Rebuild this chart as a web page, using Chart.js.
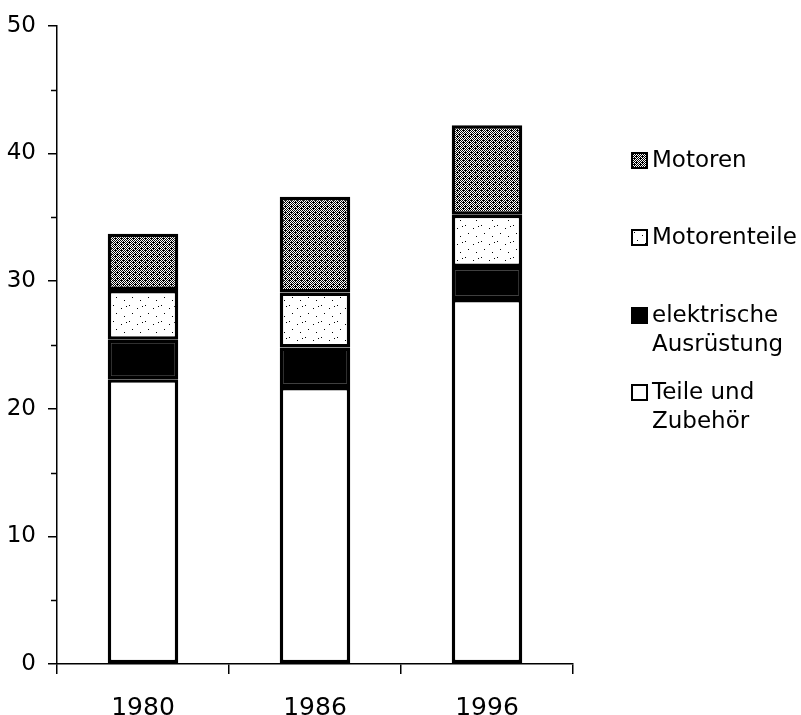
<!DOCTYPE html>
<html>
<head>
<meta charset="utf-8">
<script src="https://cdn.jsdelivr.net/npm/chart.js@4"></script>
<style>
  body { margin: 0; background: #fff; }
  #wrap { position: relative; width: 801px; height: 715px; }
  #legend { position: absolute; left: 0; top: 0; font-family: "DejaVu Sans", sans-serif; font-size: 23px; color: #000; }
  .item { position: absolute; left: 631px; line-height: 29px; }
  .box { position: absolute; left: 0; width: 13px; height: 13px; border: 2px solid #000; }
  .txt { position: absolute; left: 21px; white-space: nowrap; }
</style>
</head>
<body>
<div id="wrap">
  <canvas id="chart" width="801" height="715"></canvas>
  <div id="legend"></div>
</div>
<script>
// Chart data
const years = ["1980", "1986", "1996"];
const teileUndZubehoer = [22.3, 21.7, 28.6];
const elektrischeAusruestung = [3.1, 3.1, 2.5];
const motorenteile = [3.9, 4.3, 4.1];
const motoren = [4.4, 7.5, 7.0];
const seriesNames = ["Teile und\nZubehör", "elektrische\nAusrüstung", "Motorenteile", "Motoren"];

// Make a small stipple pattern, like the scanned raster fill
function makePattern(dots, size) {
  const c = document.createElement("canvas");
  c.width = size;
  c.height = size;
  const g = c.getContext("2d");
  g.fillStyle = "#fff";
  g.fillRect(0, 0, size, size);
  g.fillStyle = "#000";
  dots.forEach(d => g.fillRect(d[0], d[1], 1, 1));
  return g.createPattern(c, "repeat");
}

// dense grey stipple for Motoren
const darkDots = [];
for (let y = 0; y < 6; y++) {
  for (let x = 0; x < 6; x++) {
    if ((x + y) % 2 === 0 || (x === 3 && y === 2) || (x === 1 && y === 4)) darkDots.push([x, y]);
  }
}
const darkFill = makePattern(darkDots, 6);
// sparse dots for Motorenteile
const lightFill = makePattern([[1, 1], [9, 4], [4, 9], [12, 12], [14, 2]], 16);

const fills = ["#fff", "#000", lightFill, darkFill];
const seriesData = [teileUndZubehoer, elektrischeAusruestung, motorenteile, motoren];

// Minor ticks on the y axis every 5 units
const minorTicks = {
  id: "minorTicks",
  afterDraw(chart) {
    const y = chart.scales.y;
    const ctx = chart.ctx;
    ctx.save();
    ctx.strokeStyle = "#000";
    ctx.lineWidth = 1.5;
    for (let v = 5; v < 50; v += 10) {
      const py = Math.round(y.getPixelForValue(v)) + 0.5;
      ctx.beginPath();
      ctx.moveTo(y.right - 6, py);
      ctx.lineTo(y.right, py);
      ctx.stroke();
    }
    ctx.restore();
  }
};

new Chart(document.getElementById("chart"), {
  type: "bar",
  data: {
    labels: years,
    datasets: seriesData.map((d, i) => ({
      label: seriesNames[i],
      data: d,
      backgroundColor: fills[i],
      borderColor: "#000",
      borderWidth: 3.5,
      borderSkipped: false
    }))
  },
  options: {
    responsive: false,
    animation: false,
    layout: { padding: { left: 0, right: 228, top: 20, bottom: 0 } },
    plugins: { legend: { display: false }, tooltip: { enabled: false } },
    datasets: { bar: { categoryPercentage: 1, barPercentage: 0.41 } },
    scales: {
      x: {
        stacked: true,
        offset: true,
        grid: { offset: true, drawOnChartArea: false, color: "#000", tickLength: 10, lineWidth: 1.5 },
        border: { color: "#000", width: 1.5 },
        ticks: { color: "#000", padding: 19, font: { family: "DejaVu Sans", size: 25 } },
        afterFit: s => { s.height = 51; }
      },
      y: {
        stacked: true,
        min: 0,
        max: 50,
        grid: { drawOnChartArea: false, color: "#000", tickLength: 9, lineWidth: 1.5 },
        border: { color: "#000", width: 1.5 },
        ticks: { stepSize: 10, color: "#000", padding: 12, font: { family: "DejaVu Sans", size: 23 } },
        afterFit: s => { s.width = 57; }
      }
    }
  },
  plugins: [minorTicks]
});

// Legend drawn as html, top entry first
const legendEl = document.getElementById("legend");
const legendTops = [377, 300, 222, 145];
[3, 2, 1, 0].forEach(i => {
  const item = document.createElement("div");
  item.className = "item";
  item.style.top = legendTops[i] + "px";
  const box = document.createElement("canvas");
  box.className = "box";
  box.width = 13;
  box.height = 13;
  box.style.top = "7px";
  const bctx = box.getContext("2d");
  bctx.fillStyle = fills[i];
  bctx.fillRect(0, 0, 13, 13);
  const txt = document.createElement("div");
  txt.className = "txt";
  txt.innerHTML = seriesNames[i].replace("\n", "<br>");
  item.appendChild(box);
  item.appendChild(txt);
  legendEl.appendChild(item);
});
</script>
</body>
</html>
